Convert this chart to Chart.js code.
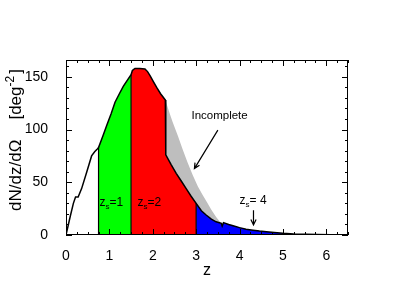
<!DOCTYPE html>
<html>
<head>
<meta charset="utf-8">
<script src="https://cdn.jsdelivr.net/npm/chart.js@4/dist/chart.umd.min.js"></script>
<style>
  body { margin: 0; background: #fff; }
</style>
</head>
<body>
<canvas id="myCanvas" width="415" height="297"></canvas>
<script>
// redshift distribution dN/dz/dOmega
const zValues = [0.00, 0.05, 0.10, 0.17, 0.22, 0.28, 0.36, 0.48, 0.59, 0.66, 0.71, 0.75,
    0.85, 0.94, 1.04, 1.13, 1.23, 1.32, 1.40, 1.50, 1.53, 1.59, 1.70, 1.82, 1.88, 1.94,
    2.02, 2.09, 2.18, 2.29, 2.30, 2.42, 2.54, 2.66, 2.77, 2.88, 3.00, 3.12, 3.23, 3.35,
    3.46, 3.58, 3.60, 3.63, 3.75, 3.87, 4.00, 4.15, 4.31, 4.46, 4.62, 4.80, 5.00, 5.25,
    5.54, 5.80, 6.10, 6.50];
const dNdz = [0, 9, 18, 30, 36, 36, 44, 60, 75, 79, 81, 83,
    94, 104, 115, 126, 134, 141, 146, 152, 156, 158, 158, 157.5, 155, 151,
    145, 140, 134, 128, 76, 67, 58.5, 51, 44, 37, 30, 23, 19, 15,
    12.5, 11, 8.5, 11.7, 10, 8.5, 7, 5.5, 4.5, 3.7, 3, 2.3, 1.6, 1,
    0.6, 0.4, 0.2, 0.1];

// "Incomplete" upper envelope
const incompleteZ = [2.29, 2.40, 2.46, 2.58, 2.69, 2.80, 2.92, 3.04, 3.15, 3.25, 3.35, 3.46, 3.58];
const incompleteN = [128, 114, 107, 94, 81, 69, 57, 46, 38, 31, 24, 17, 11];

// source redshift bins z_s = 1, 2, 4
const binLabels = ['1', '2', ' 4'];
const binEdges = [0.75, 1.5, 3.0, 6.5];
const binColors = ['#00ff00', '#ff0000', '#0000ff'];

const xTickLabels = [0, 1, 2, 3, 4, 5, 6];
const yTickLabels = [0, 50, 100, 150];

const FONT = "'Liberation Sans', Arial, Helvetica, sans-serif";

function curvePoints(lo, hi) {
    let pts = [];
    for (let i = 0; i < zValues.length; i++) {
        if (zValues[i] >= lo && zValues[i] <= hi) pts.push({ x: zValues[i], y: dNdz[i] });
    }
    return pts;
}

function valueAt(z) {
    return dNdz[zValues.indexOf(z)];
}

var datasets = [];

// black outline on top
datasets.push({
    data: curvePoints(0, 6.5),
    borderColor: '#000', borderWidth: 1.5, pointRadius: 0, fill: false, tension: 0
});

// vertical bin edges
for (let i = 0; i < binEdges.length - 1; i++) {
    datasets.push({
        data: [{ x: binEdges[i], y: 0 }, { x: binEdges[i], y: valueAt(binEdges[i]) }],
        borderColor: '#000', borderWidth: 1.2, pointRadius: 0, fill: false
    });
}

// coloured bins
for (let i = binEdges.length - 2; i >= 0; i--) {
    datasets.push({
        data: curvePoints(binEdges[i], binEdges[i + 1]),
        borderWidth: 0, borderColor: 'rgba(0,0,0,0)', pointRadius: 0,
        backgroundColor: binColors[i], fill: 'origin', tension: 0
    });
}

// incomplete region (drawn first, under the bins)
datasets.push({
    data: incompleteZ.map((z, i) => ({ x: z, y: incompleteN[i] })),
    borderWidth: 0, borderColor: 'rgba(0,0,0,0)', pointRadius: 0,
    backgroundColor: '#bebebe', fill: 'origin', tension: 0
});

// annotation places, in data units
const incompleteText = { x: 3.54, y: 113.5 };
const incompleteArrow = { x0: 3.50, y0: 99.5, x1: 2.96, y1: 63 };
const binLabelPos = [{ x: 0.77, y: 31.5 }, { x: 1.65, y: 31.5 }, { x: 4.0, y: 33 }];
const zs4Arrow = { x: 4.31, y0: 23.5, y1: 9.5 };

function arrow(ctx, x0, y0, x1, y1) {
    ctx.beginPath();
    ctx.moveTo(x0, y0);
    ctx.lineTo(x1, y1);
    let a = Math.atan2(y1 - y0, x1 - x0);
    let h = 6;
    ctx.moveTo(x1 - h * Math.cos(a - 0.45), y1 - h * Math.sin(a - 0.45));
    ctx.lineTo(x1, y1);
    ctx.lineTo(x1 - h * Math.cos(a + 0.45), y1 - h * Math.sin(a + 0.45));
    ctx.stroke();
}

const framePlugin = {
    id: 'frame',
    afterDatasetsDraw(chart) {
        const ctx = chart.ctx;
        const area = chart.chartArea;
        const xs = chart.scales.x, ys = chart.scales.y;
        ctx.save();
        ctx.strokeStyle = '#000';
        ctx.lineWidth = 1;
        ctx.strokeRect(area.left + 0.5, area.top + 0.5, area.right - area.left - 1, area.bottom - area.top - 1);

        ctx.beginPath();
        for (let v = 0; v <= 6.5001; v += 0.25) {
            let px = Math.round(xs.getPixelForValue(v)) + 0.5;
            let len = Math.abs(v - Math.round(v)) < 0.01 ? 6 : 3;
            ctx.moveTo(px, area.bottom); ctx.lineTo(px, area.bottom - len);
            ctx.moveTo(px, area.top); ctx.lineTo(px, area.top + len);
        }
        for (let v = 0; v <= 165; v += 10) {
            let py = Math.round(ys.getPixelForValue(v)) + 0.5;
            let len = v % 50 === 0 ? 6 : 3;
            ctx.moveTo(area.left, py); ctx.lineTo(area.left + len, py);
            ctx.moveTo(area.right, py); ctx.lineTo(area.right - len, py);
        }
        ctx.stroke();

        // annotations
        ctx.fillStyle = '#000';
        ctx.textBaseline = 'middle';
        ctx.font = '11.5px ' + FONT;
        ctx.textAlign = 'center';
        ctx.fillText('Incomplete', xs.getPixelForValue(incompleteText.x), ys.getPixelForValue(incompleteText.y));
        ctx.lineWidth = 1.2;
        arrow(ctx, xs.getPixelForValue(incompleteArrow.x0), ys.getPixelForValue(incompleteArrow.y0),
            xs.getPixelForValue(incompleteArrow.x1), ys.getPixelForValue(incompleteArrow.y1));
        arrow(ctx, xs.getPixelForValue(zs4Arrow.x) + 0.5, ys.getPixelForValue(zs4Arrow.y0),
            xs.getPixelForValue(zs4Arrow.x) + 0.5, ys.getPixelForValue(zs4Arrow.y1));

        ctx.textAlign = 'left';
        ctx.textBaseline = 'alphabetic';
        binLabelPos.forEach((p, i) => {
            let x = xs.getPixelForValue(p.x);
            let y = ys.getPixelForValue(p.y) + 4;
            ctx.font = '12px ' + FONT;
            ctx.fillText('z', x, y);
            x += ctx.measureText('z').width;
            ctx.font = '8px ' + FONT;
            ctx.fillText('s', x, y + 3);
            x += ctx.measureText('s').width;
            ctx.font = '12px ' + FONT;
            ctx.fillText('=' + binLabels[i], x, y);
        });

        // x title
        ctx.font = '16px ' + FONT;
        ctx.textAlign = 'center';
        ctx.fillText('z', (area.left + area.right) / 2, 275);

        // y title, rotated, with superscript
        ctx.translate(21, 140);
        ctx.rotate(-Math.PI / 2);
        let big = '17px ' + FONT, small = '12px ' + FONT;
        ctx.font = big;
        let w1 = ctx.measureText('dN/dz/d\u03A9').width;
        let gap = 20;
        let w2 = ctx.measureText('[deg').width;
        ctx.font = small;
        let w3 = ctx.measureText('-2').width + 2;
        ctx.font = big;
        let w4 = ctx.measureText(']').width;
        let x0 = -(w1 + gap + w2 + w3 + w4) / 2;
        ctx.textAlign = 'left';
        ctx.fillText('dN/dz/d\u03A9', x0, 0);
        ctx.fillText('[deg', x0 + w1 + gap, 0);
        ctx.font = small;
        ctx.fillText('-2', x0 + w1 + gap + w2, -7);
        ctx.font = big;
        ctx.fillText(']', x0 + w1 + gap + w2 + w3, 0);
        ctx.restore();
    }
};

Chart.defaults.font.family = FONT;
Chart.defaults.color = '#000';

let ctx = document.getElementById('myCanvas').getContext('2d');
let myChart = new Chart(ctx, {
    type: 'line',
    data: { datasets: datasets },
    options: {
        responsive: false,
        animation: false,
        layout: { padding: { top: 60, right: 67, left: 0, bottom: 0 } },
        plugins: { legend: { display: false }, tooltip: { enabled: false } },
        scales: {
            x: {
                type: 'linear', min: 0, max: 6.5,
                grid: { display: false }, border: { display: false },
                ticks: { stepSize: 1, autoSkip: false, maxRotation: 0, padding: 5, font: { size: 14 } },
                afterBuildTicks: (scale) => {
                    scale.ticks = xTickLabels.map(v => ({ value: v }));
                },
                afterFit: (scale) => { scale.height = 62; }
            },
            y: {
                type: 'linear', min: 0, max: 166,
                grid: { display: false }, border: { display: false },
                ticks: { stepSize: 50, padding: 10, font: { size: 14 } },
                afterBuildTicks: (scale) => {
                    scale.ticks = yTickLabels.map(v => ({ value: v }));
                },
                afterFit: (scale) => { scale.width = 66; }
            }
        }
    },
    plugins: [framePlugin]
});
</script>
</body>
</html>
